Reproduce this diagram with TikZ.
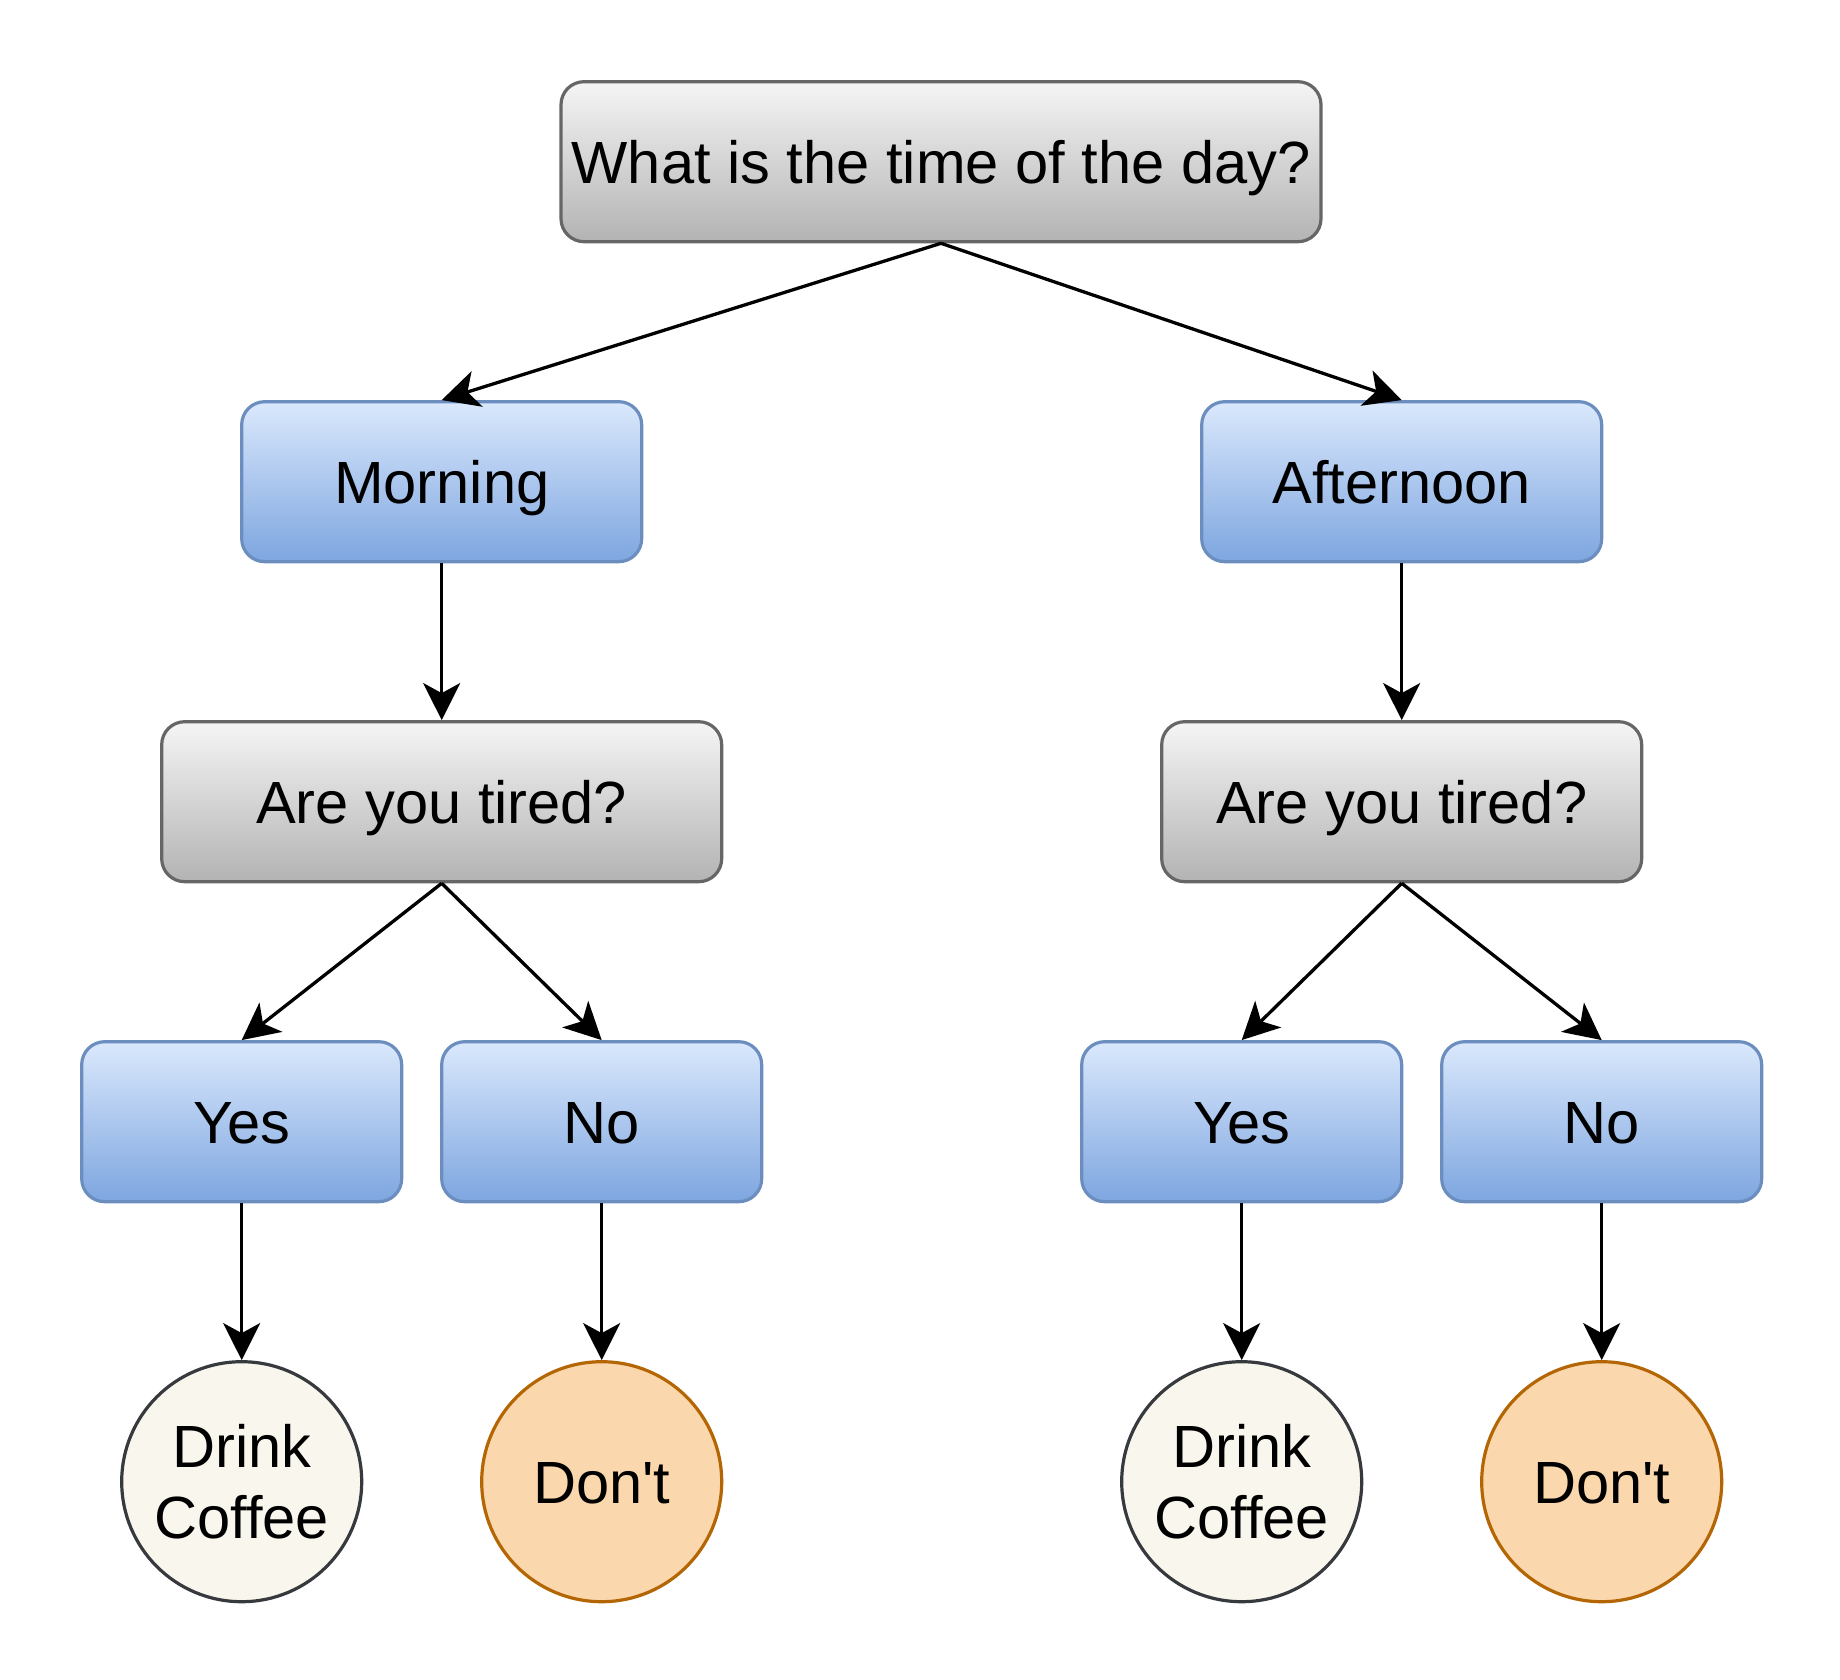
\documentclass[tikz,border=0pt]{standalone}
\usepackage{fontspec}
\setmainfont{Liberation Sans}[Ligatures=TeXOff]
\usetikzlibrary{arrows.meta}
\definecolor{grayTop}{HTML}{F5F5F5}
\definecolor{grayBot}{HTML}{B3B3B3}
\definecolor{grayLine}{HTML}{666666}
\definecolor{blueTop}{HTML}{DAE8FC}
\definecolor{blueBot}{HTML}{7EA6E0}
\definecolor{blueLine}{HTML}{6C8EBF}
\definecolor{creamFill}{HTML}{F9F7ED}
\definecolor{creamLine}{HTML}{36393D}
\definecolor{orangeFill}{HTML}{FAD7AC}
\definecolor{orangeLine}{HTML}{B46504}
\tikzset{
  base/.style={inner sep=0pt, line width=3.2pt, font=\fontsize{59.6}{71}\selectfont, align=center},
  onel/.style={text height=42.7pt, text depth=0pt},
  graybox/.style={base, onel, rectangle, rounded corners=23pt, draw=grayLine, top color=grayTop, bottom color=grayBot, minimum height=160pt},
  bluebox/.style={base, onel, rectangle, rounded corners=23pt, draw=blueLine, top color=blueTop, bottom color=blueBot, minimum height=160pt},
  creamcirc/.style={base, circle, draw=creamLine, fill=creamFill, minimum size=240pt},
  orangecirc/.style={base, onel, circle, draw=orangeLine, fill=orangeFill, minimum size=240pt},
  conn/.style={line width=3.3pt, black, -{Stealth[length=37pt,width=37pt,inset=10pt]}}
}
\begin{document}
\begin{tikzpicture}[x=1pt,y=-1pt]
\useasboundingbox (0,0) rectangle (1840,1680);
\node[graybox, minimum width=760pt] (top) at (941,161.7) {What is the time of the day?};
\node[bluebox, minimum width=400pt] (morning) at (441.7,481.7) {Morning};
\node[bluebox, minimum width=400pt] (afternoon) at (1401.7,481.7) {Afternoon};
\node[graybox, minimum width=560pt] (tiredL) at (441.7,801.7) {Are you tired?};
\node[graybox, minimum width=480pt] (tiredR) at (1401.7,801.7) {Are you tired?};
\node[bluebox, minimum width=320pt] (yesL) at (241.7,1121.7) {Yes};
\node[bluebox, minimum width=320pt] (noL) at (601.7,1121.7) {No};
\node[bluebox, minimum width=320pt] (yesR) at (1241.7,1121.7) {Yes};
\node[bluebox, minimum width=320pt] (noR) at (1601.7,1121.7) {No};
\node[creamcirc] (drinkL) at (241.7,1481.7) {Drink\\Coffee};
\node[orangecirc] (dontL) at (601.7,1481.7) {Don't};
\node[creamcirc] (drinkR) at (1241.7,1481.7) {Drink\\Coffee};
\node[orangecirc] (dontR) at (1601.7,1481.7) {Don't};
\draw[conn] (top.south) -- (morning.north);
\draw[conn] (top.south) -- (afternoon.north);
\draw[conn] (morning.south) -- (tiredL.north);
\draw[conn] (afternoon.south) -- (tiredR.north);
\draw[conn] (tiredL.south) -- (yesL.north);
\draw[conn] (tiredL.south) -- (noL.north);
\draw[conn] (tiredR.south) -- (yesR.north);
\draw[conn] (tiredR.south) -- (noR.north);
\draw[conn] (yesL.south) -- (drinkL.north);
\draw[conn] (noL.south) -- (dontL.north);
\draw[conn] (yesR.south) -- (drinkR.north);
\draw[conn] (noR.south) -- (dontR.north);
\end{tikzpicture}
\end{document}
